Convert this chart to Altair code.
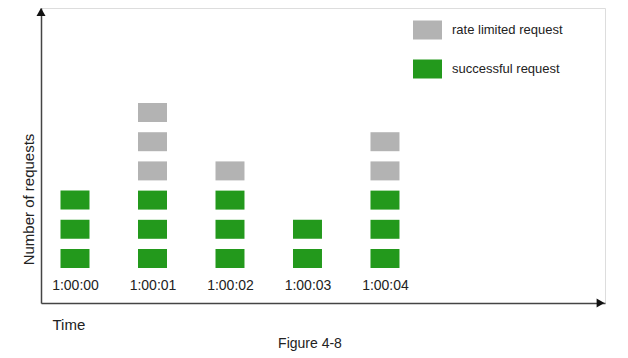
import altair as alt
import pandas as pd

# ---- data ----
times = ["1:00:00", "1:00:01", "1:00:02", "1:00:03", "1:00:04"]
successful = [3, 3, 3, 2, 3]
rate_limited = [0, 3, 1, 0, 2]
series = ["rate limited request", "successful request"]
colors = ["#b3b3b3", "#23991c"]
caption = "Figure 4-8"
x_title = "Time"
y_title = "Number of requests"

rows = []
for i, (s, r) in enumerate(zip(successful, rate_limited)):
    for k in range(1, s + 1):
        rows.append({"t": i, "slot": k, "status": series[1]})
    for k in range(s + 1, s + r + 1):
        rows.append({"t": i, "slot": k, "status": series[0]})
df = pd.DataFrame(rows)

FONT = "Liberation Sans"
W, H = 564, 295

xscale = alt.Scale(domain=[-0.4387, 6.839], nice=False, zero=False)
yscale = alt.Scale(domain=[-0.524, 9.579], nice=False, zero=False)

label_expr = "[" + ",".join(f"'{t}'" for t in times) + "][datum.value]"
rect_path = "M-1,-0.655H1V0.655H-1Z"

blocks = alt.Chart(df).transform_calculate(
    x0="datum.t - 0.187", x1="datum.t + 0.187",
    y0="datum.slot - 0.325", y1="datum.slot + 0.325",
).mark_rect().encode(
    x=alt.X("x0:Q", scale=xscale,
            axis=alt.Axis(values=list(range(len(times))), labelExpr=label_expr,
                          ticks=False, grid=False, domain=True,
                          domainColor="#444", domainWidth=1.5,
                          labelPadding=-25, labelFontSize=14, labelFont=FONT,
                          labelColor="#222", labelFlush=False, labelOverlap=False,
                          title=x_title, titleX=11, titleY=26, titleAlign="left",
                          titleBaseline="alphabetic", titleFontWeight="normal",
                          titleFontSize=15, titleFont=FONT, titleColor="#222")),
    x2="x1:Q",
    y=alt.Y("y0:Q", scale=yscale,
            axis=alt.Axis(labels=False, ticks=False, grid=False, domain=True,
                          domainColor="#444", domainWidth=1.5,
                          title=y_title, titleX=-13, titleY=191, titleAngle=270,
                          titleAlign="center", titleBaseline="middle",
                          titleFontWeight="normal", titleFontSize=15,
                          titleFont=FONT, titleColor="#222")),
    y2="y1:Q",
    color=alt.Color("status:N", scale=alt.Scale(domain=series, range=colors),
                    legend=alt.Legend(title=None, orient="none", legendX=372, legendY=7.5,
                                      symbolType=rect_path, symbolSize=841,
                                      symbolStrokeWidth=0, symbolOpacity=1,
                                      labelFontSize=13, labelFont=FONT, labelColor="#222",
                                      labelOffset=10, rowPadding=15, padding=0,
                                      direction="vertical")),
)

one = pd.DataFrame({"label": [caption]})

y_arrow = alt.Chart(one).mark_point(shape="triangle-up", filled=True, size=81,
                                     color="#111", opacity=1).encode(
    x=alt.value(0), y=alt.value(4))
x_arrow = alt.Chart(one).mark_point(shape="triangle-right", filled=True, size=81,
                                     color="#111", opacity=1).encode(
    x=alt.value(W - 4.5), y=alt.value(H))

cap = alt.Chart(one).mark_text(font=FONT, fontSize=14, color="#222",
                               baseline="middle", align="center").encode(
    text="label:N", x=alt.value(269), y=alt.value(336))

chart = alt.layer(blocks, y_arrow, x_arrow, cap).properties(
    width=W, height=H,
    autosize=alt.AutoSizeParams(type="none"),
    padding={"left": 33, "top": 0, "right": 15, "bottom": 50},
).configure_view(strokeWidth=0).configure(background="white")

chart.save("out.html", embed_options={"renderer": "svg", "actions": False})
